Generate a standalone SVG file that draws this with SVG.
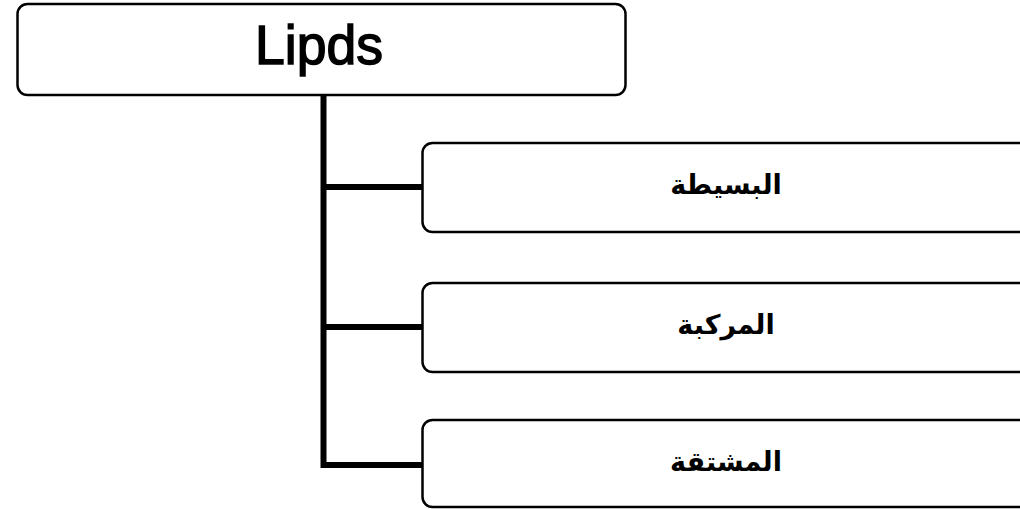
<svg xmlns="http://www.w3.org/2000/svg" width="1020" height="509" viewBox="0 0 1020 509">
<style>
.box{fill:#fff;stroke:#000;stroke-width:2.5}
.conn{fill:none;stroke:#000;stroke-width:6;stroke-linecap:butt;stroke-linejoin:miter}
.title{font-family:"Liberation Sans",Arial,sans-serif;font-size:56px;fill:#000;stroke:#000;stroke-width:1.5}
.ar{font-family:"DejaVu Sans","Noto Sans",sans-serif;font-size:27px;font-weight:bold;fill:#000}
</style>
<rect width="1020" height="509" fill="#fff"/>
<g id="connectors">
<path class="conn" d="M323.5 95 V465 H423"/>
<path class="conn" d="M323.5 187 H423"/>
<path class="conn" d="M323.5 327 H423"/>
</g>
<g id="root">
<rect class="box" x="17.5" y="4" width="608" height="91" rx="10"/>
<text class="title" x="319" y="64" text-anchor="middle" textLength="128" lengthAdjust="spacingAndGlyphs">Lipds</text>
</g>
<g id="simple">
<rect class="box" x="422.5" y="143" width="610" height="89" rx="10"/>
<text class="ar" x="726" y="194" text-anchor="middle" direction="rtl">البسيطة</text>
</g>
<g id="compound">
<rect class="box" x="422.5" y="283" width="610" height="89" rx="10"/>
<text class="ar" x="726" y="334" text-anchor="middle" direction="rtl">المركبة</text>
</g>
<g id="derived">
<rect class="box" x="422.5" y="420" width="610" height="87" rx="10"/>
<text class="ar" x="726" y="471" text-anchor="middle" direction="rtl">المشتقة</text>
</g>
</svg>
